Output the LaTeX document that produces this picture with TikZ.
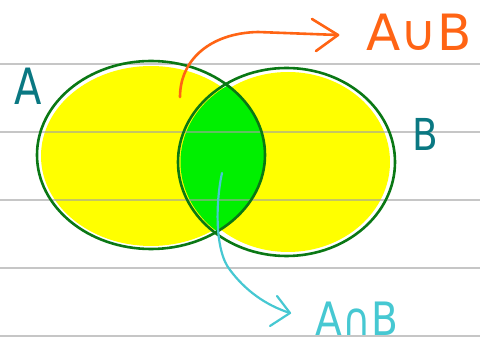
\documentclass[tikz,border=0pt]{standalone}
\usepackage{fontspec}
\setmainfont{DejaVu Sans}
\definecolor{rule}{RGB}{160,160,160}
\definecolor{venn}{RGB}{10,120,20}
\definecolor{fillY}{RGB}{255,255,0}
\definecolor{fillG}{RGB}{0,240,0}
\definecolor{tealA}{RGB}{10,120,130}
\definecolor{orng}{RGB}{255,100,20}
\definecolor{cyn}{RGB}{70,200,210}
\tikzset{
  ruleline/.style={rule,line width=1.2pt,opacity=0.6},
  setoutline/.style={venn,line width=2.6pt},
  hand/.style={line width=2.6pt,line cap=round,line join=round},
  lbl/.style={inner sep=0pt,font=\fontsize{50}{50}\selectfont}
}
\begin{document}
\begin{tikzpicture}[x=1pt,y=-1pt]
\useasboundingbox (0,0) rectangle (480,347);
\fill[white] (0,0) rectangle (480,347);
% fills
\fill[fillY] (151,156) ellipse [x radius=110,y radius=90];
\fill[fillY] (288,162) ellipse [x radius=102,y radius=90];
\begin{scope}
  \clip (151,155) ellipse [x radius=114,y radius=94];
  \fill[fillG] (286.5,162) ellipse [x radius=106,y radius=92];
\end{scope}
% ruled lines
\foreach \yy in {64,132,200,268,336}
  \draw[ruleline] (0,\yy) -- (480,\yy);
% outlines
\draw[setoutline] (151,155) ellipse [x radius=114,y radius=94];
\draw[setoutline] (286.5,162) ellipse [x radius=108.5,y radius=94];
% labels
\node[lbl,text=tealA,xscale=0.8] (labA) at (28,86) {A};
\node[lbl,text=tealA,font=\fontsize{44}{44}\selectfont,xscale=0.85] (labB) at (425,134) {B};
\node[lbl,text=orng] (union) at (419,32) {A∪B};
\node[lbl,text=cyn,font=\fontsize{46}{46}\selectfont,xscale=0.85] (inter) at (357,319) {A∩B};
% orange arrow
\coordinate (oS) at (180,97);
\coordinate (oT) at (338,35);
\draw[hand,orng] (oS) .. controls (180,60) and (210,33) .. (258,32) -- (oT);
\draw[hand,orng] (312,19) -- (oT) -- (316,51);
% cyan arrow
\coordinate (cS) at (222,173);
\coordinate (cT) at (290,313);
\draw[hand,cyn,line width=2.2pt] (cS) .. controls (216,200) and (214,250) .. (230,270) .. controls (245,290) and (265,305) .. (cT);
\draw[hand,cyn,line width=2.2pt] (277,296) -- (cT) -- (270,326);
\end{tikzpicture}
\end{document}
